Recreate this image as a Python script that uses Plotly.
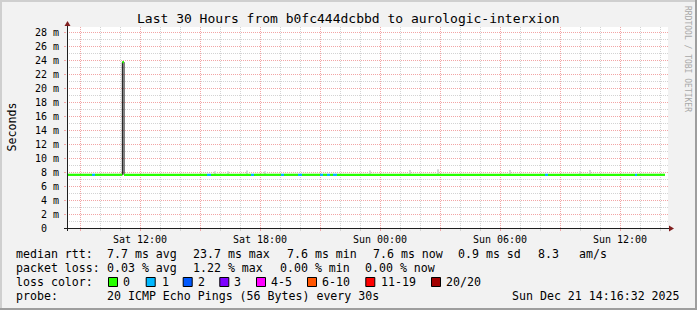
import plotly.graph_objects as go
from datetime import datetime

# ---------------- data ----------------
data_start = "2025-12-20 08:21:00"
data_end = "2025-12-21 14:15:00"
range_start = "2025-12-20 08:21:00"
range_end = "2025-12-21 14:24:00"

median_base = 7.6  # ms (typical median rtt)

# non-green (loss) episodes: start, end, loss class index, median (ms)
event_start = ["2025-12-20 09:36", "2025-12-20 11:07", "2025-12-20 15:21", "2025-12-20 17:33",
               "2025-12-20 19:03", "2025-12-20 19:54", "2025-12-20 21:00", "2025-12-20 21:21",
               "2025-12-20 21:39", "2025-12-21 08:15", "2025-12-21 12:45"]
event_end = ["2025-12-20 09:45", "2025-12-20 11:12", "2025-12-20 15:33", "2025-12-20 17:42",
             "2025-12-20 19:12", "2025-12-20 20:06", "2025-12-20 21:09", "2025-12-20 21:30",
             "2025-12-20 21:51", "2025-12-21 08:24", "2025-12-21 12:51"]
event_loss = [1, 0, 1, 1, 1, 1, 1, 1, 1, 1, 1]
event_median = [7.6, 23.7, 7.6, 7.6, 7.6, 7.6, 7.6, 7.6, 7.6, 7.6, 7.6]

# smoke (spread of pings above the median)
smoke_times = ["2025-12-20 15:45", "2025-12-20 16:24", "2025-12-20 17:21", "2025-12-20 18:15",
               "2025-12-20 23:30", "2025-12-21 01:30", "2025-12-21 02:54", "2025-12-21 06:30",
               "2025-12-21 10:00", "2025-12-21 10:30"]
smoke_top = [8.1, 8.1, 8.2, 8.1, 8.2, 8.3, 8.4, 8.3, 8.1, 8.3]

loss_labels = ["0", "1", "2", "3", "4-5", "6-10", "11-19", "20/20"]
loss_colors = ["#26ff00", "#00b8ff", "#0059ff", "#7e00ff", "#ff00ff", "#ff5500", "#ff0000", "#a10000"]

y_ticks = [0, 2, 4, 6, 8, 10, 12, 14, 16, 18, 20, 22, 24, 26, 28]
y_ticktext = ["0  "] + [f"{v} m" for v in y_ticks[1:]]

x_ticks = ["2025-12-20 09:00", "2025-12-20 12:00", "2025-12-20 15:00", "2025-12-20 18:00",
           "2025-12-20 21:00", "2025-12-21 00:00", "2025-12-21 03:00", "2025-12-21 06:00",
           "2025-12-21 09:00", "2025-12-21 12:00"]
x_ticktext = ["", "Sat 12:00", "", "Sat 18:00", "", "Sun 00:00", "", "Sun 06:00", "", "Sun 12:00"]

title = "Last 30 Hours from b0fc444dcbbd to aurologic-interxion"
row1 = [("median rtt:", 16), ("7.7 ms avg", 107.3), ("23.7 ms max", 193.3), ("7.6 ms min", 287.3),
        ("7.6 ms now", 372.7), ("0.9 ms sd", 458.3), ("8.3", 538.3), ("am/s", 579.3)]
row2 = [("packet loss:", 16), ("0.03 % avg", 107.3), ("1.22 % max", 193.3), ("0.00 % min", 280.0),
        ("0.00 % now", 365.0)]
loss_box_x = [108, 145.7, 182.7, 219.3, 256, 307, 365.3, 431]
loss_text_x = [123, 161.7, 197.7, 234.3, 270.7, 322.3, 380.7, 445.7]
probe_text = "20 ICMP Echo Pings (56 Bytes) every 30s"
stamp_text = "Sun Dec 21 14:16:32 2025"

# ---------------- layout geometry ----------------
FW, FH = 697, 310
L, R, T, B = 67, 668, 27, 228
MONO = "DejaVu Sans Mono"


def px(x):
    return (x - L) / (R - L)


def py(y):
    return (B - y) / (B - T)


def nb(s):
    return s.replace(" ", "\u00a0")


# ---------------- build runs ----------------
runs = []
cur = data_start
for s, e, c, v in sorted(zip(event_start, event_end, event_loss, event_median)):
    if datetime.fromisoformat(s) > datetime.fromisoformat(cur):
        runs.append((cur, s, 0, median_base))
    runs.append((s, e, c, v))
    cur = e
runs.append((cur, data_end, 0, median_base))

fig = go.Figure()

# smoke
fig.add_trace(go.Bar(
    x=smoke_times, y=[t - median_base for t in smoke_top], base=median_base,
    width=3 * 60 * 1000, marker=dict(color="#D6D6D6", line=dict(width=0)),
    hoverinfo="skip", showlegend=False))

# black median outline
fig.add_trace(go.Scatter(
    x=[r[0] for r in runs] + [runs[-1][1]], y=[r[3] for r in runs] + [runs[-1][3]],
    mode="lines", line=dict(color="#000000", width=1, shape="hv"),
    hoverinfo="skip", showlegend=False))

# loss-coloured median segments
for ci, col in enumerate(loss_colors):
    xs, ys = [], []
    for s, e, c, v in runs:
        if c == ci:
            xs += [s, e, None]
            ys += [v, v, None]
    if xs:
        fig.add_trace(go.Scatter(x=xs, y=ys, mode="lines", line=dict(color=col, width=2.2),
                                 connectgaps=False, hoverinfo="skip", showlegend=False))

MGRID = "#F2A5A5"
GRID = "#D3D3D3"

fig.update_layout(
    width=FW, height=FH, autosize=False,
    margin=dict(l=L, r=FW - R, t=T, b=FH - B, pad=0),
    paper_bgcolor="#F2F2F2", plot_bgcolor="#FFFFFF",
    barmode="overlay", showlegend=False,
    font=dict(family=MONO, size=10, color="#000000"),
    xaxis=dict(type="date", range=[range_start, range_end], tickmode="array",
               tickvals=x_ticks, ticktext=x_ticktext, showgrid=True, gridcolor=MGRID,
               griddash="1px,1px", gridwidth=1, zeroline=False, showline=False,
               ticks="outside", ticklen=2, tickcolor=MGRID, tickfont=dict(family=MONO, size=10),
               minor=dict(dtick=3600000, tick0="2025-12-20 00:00", showgrid=True,
                          gridcolor=GRID, griddash="1px,1px", ticks="outside", ticklen=2,
                          tickcolor=GRID),
               fixedrange=True),
    yaxis=dict(range=[0, (B - T) / 7.0], tickmode="array", tickvals=y_ticks,
               ticktext=[nb(t) for t in y_ticktext], showgrid=True, gridcolor=MGRID,
               griddash="1px,1px", zeroline=False, showline=False, ticks="outside",
               ticklen=2, tickcolor=MGRID, ticklabelstandoff=3,
               tickfont=dict(family=MONO, size=10),
               minor=dict(dtick=1, showgrid=True, gridcolor=GRID, griddash="1px,1px"),
               fixedrange=True),
)

shapes = []
# frame
shapes.append(dict(type="rect", xref="paper", yref="paper", x0=px(0), x1=px(FW), y0=py(0), y1=py(2),
                   fillcolor="#CFCFCF", line=dict(width=0)))
shapes.append(dict(type="rect", xref="paper", yref="paper", x0=px(0), x1=px(2), y0=py(0), y1=py(FH),
                   fillcolor="#CFCFCF", line=dict(width=0)))
shapes.append(dict(type="rect", xref="paper", yref="paper", x0=px(0), x1=px(FW), y0=py(FH - 2), y1=py(FH),
                   fillcolor="#9E9E9E", line=dict(width=0)))
shapes.append(dict(type="rect", xref="paper", yref="paper", x0=px(FW - 2), x1=px(FW), y0=py(0), y1=py(FH),
                   fillcolor="#9E9E9E", line=dict(width=0)))
# axes
shapes.append(dict(type="line", xref="paper", yref="paper", x0=px(64), x1=px(670), y0=py(228.5), y1=py(228.5),
                   line=dict(color="#1F1F1F", width=1)))
shapes.append(dict(type="line", xref="paper", yref="paper", x0=px(67.5), x1=px(67.5), y0=py(231), y1=py(24),
                   line=dict(color="#1F1F1F", width=1)))
# arrows
ARROW = "#801F1F"
shapes.append(dict(type="path", xref="paper", yref="paper",
                   path=f"M {px(669)},{py(225.5)} L {px(674)},{py(228.5)} L {px(669)},{py(231.5)} Z",
                   fillcolor=ARROW, line=dict(color=ARROW, width=0)))
shapes.append(dict(type="path", xref="paper", yref="paper",
                   path=f"M {px(64.5)},{py(26)} L {px(67.5)},{py(21)} L {px(70.5)},{py(26)} Z",
                   fillcolor=ARROW, line=dict(color=ARROW, width=0)))
# loss colour boxes
for bx, col in zip(loss_box_x, loss_colors):
    shapes.append(dict(type="rect", xref="paper", yref="paper", x0=px(bx + 0.5), x1=px(bx + 9.5),
                       y0=py(277.5), y1=py(286.5), fillcolor=col, line=dict(color="#000000", width=1)))
fig.update_layout(shapes=shapes)

ann = []


def text(s, x, y, size=11.6, anchor="left", color="#000000", angle=0, family=MONO):
    ann.append(dict(text=nb(s), x=px(x), y=py(y), xref="paper", yref="paper", xanchor=anchor,
                    yanchor="middle", showarrow=False, textangle=angle, borderpad=0, borderwidth=0,
                    font=dict(family=family, size=size, color=color)))


text(title, 348, 19, size=13, anchor="center")
text("Seconds", 11, 127.5, size=11.6, anchor="center", angle=-90)
text("RRDTOOL / TOBI OETIKER", 688, 59, size=8, anchor="center", angle=90, color="#A8A8A8")
for s, x in row1:
    text(s, x, 254.3)
for s, x in row2:
    text(s, x, 267.8)
text("loss color:", 16, 282.2)
for lab, x in zip(loss_labels, loss_text_x):
    text(lab, x, 282.2)
text("probe:", 16, 296)
text(probe_text, 107.3, 296)
text(stamp_text, 680, 296, anchor="right")
fig.update_layout(annotations=ann)

fig.write_html("out.html")
